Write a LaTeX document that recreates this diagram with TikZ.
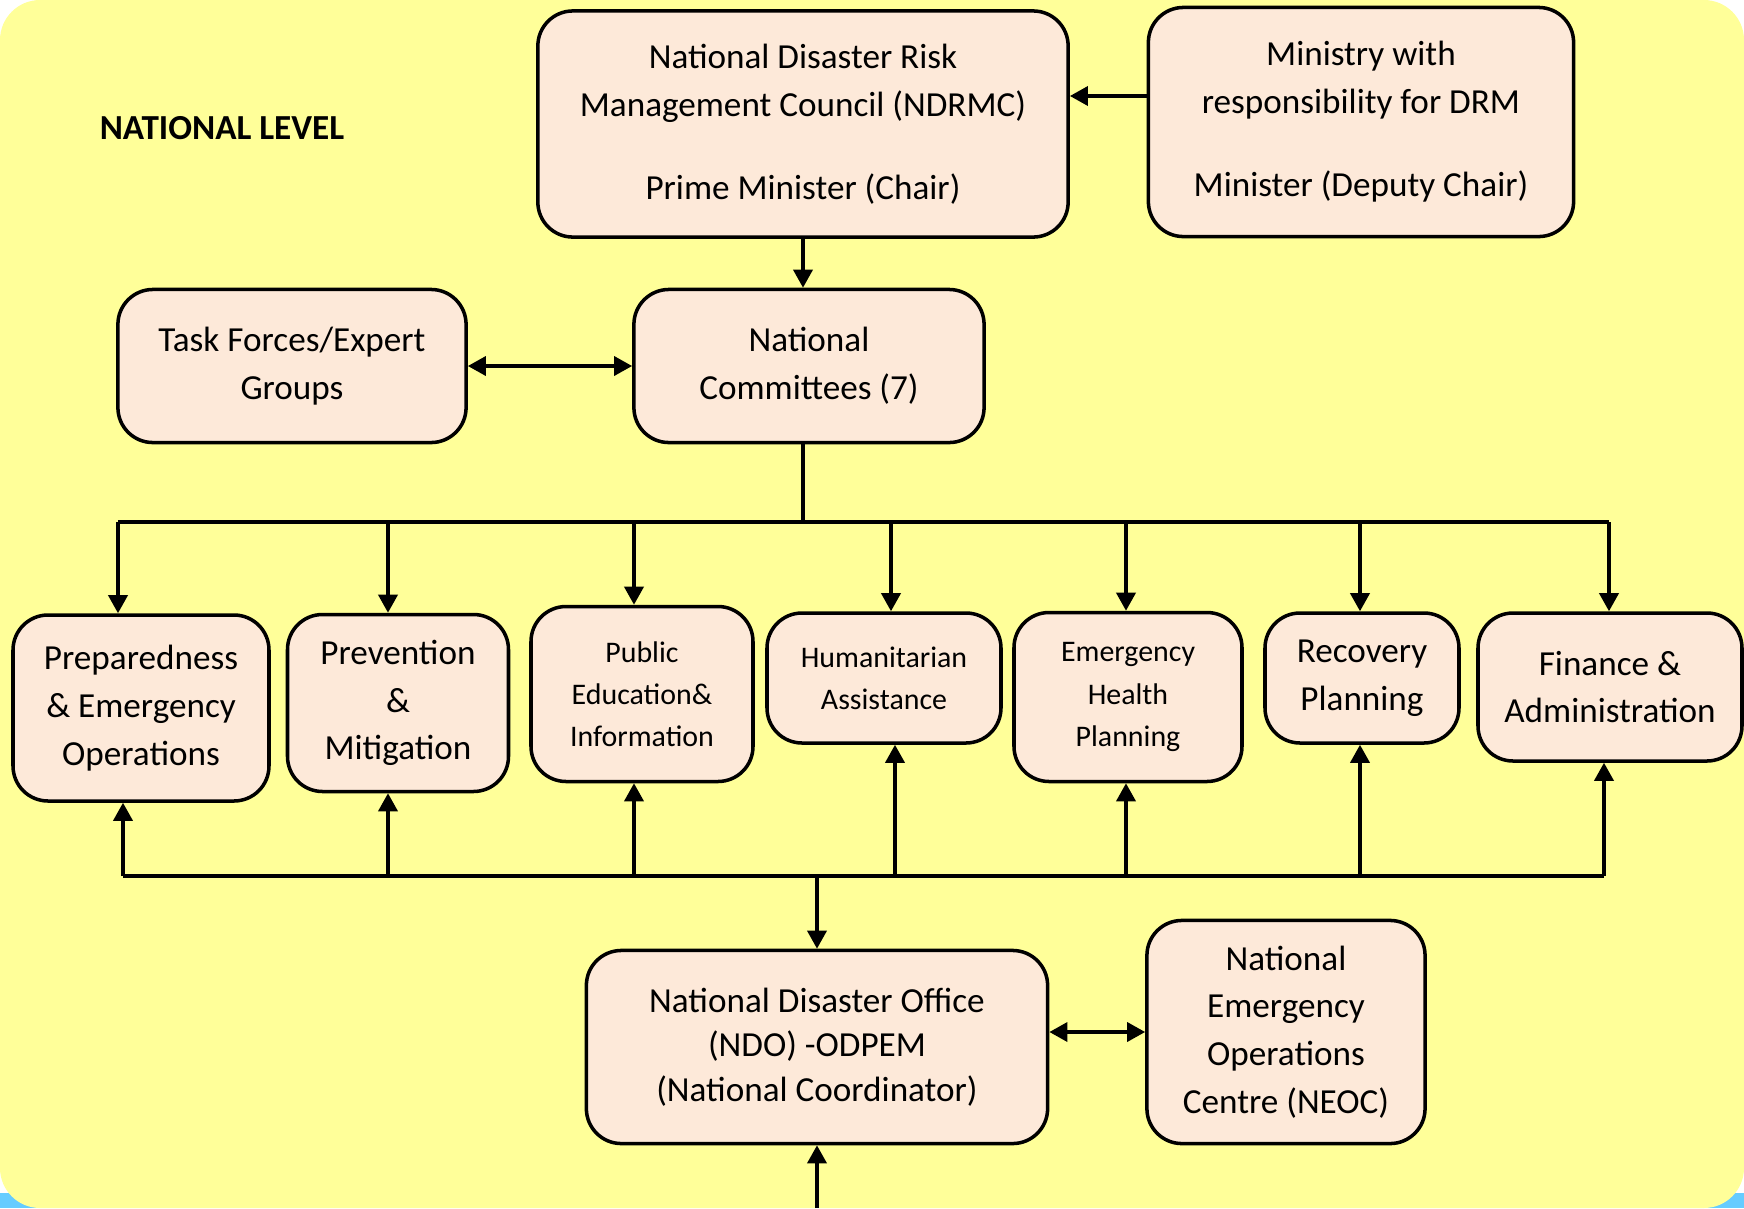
\documentclass[tikz,border=0pt]{standalone}
\usepackage{fontspec}
\setmainfont{Carlito}
\usetikzlibrary{arrows.meta}
\definecolor{panel}{HTML}{FFFF99}
\definecolor{boxfill}{HTML}{FDE9D9}
\definecolor{edgeblue}{HTML}{66CCFF}
\newcommand\bigtxt{\fontsize{10}{13.6}\selectfont}
\newcommand\smalltxt{\fontsize{8.5}{12}\selectfont}

\begin{document}
\begin{tikzpicture}[x=0.01cm, y=-0.01cm,
    unit/.style={draw, line width=1pt, fill=boxfill, rounded corners=0.35cm, align=center, inner sep=0pt},
    link/.style={line width=1pt},
    arr/.style={link, -{Triangle[length=0.18cm, width=0.19cm]}},
    dblarr/.style={link, {Triangle[length=0.18cm, width=0.19cm]}-{Triangle[length=0.18cm, width=0.19cm]}}]
    % Background
    \useasboundingbox (0,0) rectangle (1744,1208);
    \fill[edgeblue] (0,1193) rectangle (1744,1208);
    \fill[panel, rounded corners=0.4cm] (0,0) rectangle (1744,1208);
    \node[font=\bfseries\bigtxt] (title) at (222,128) {NATIONAL LEVEL};

    % Council and ministry
    \node[unit, minimum width=5.30cm, minimum height=2.26cm, font=\bigtxt] (ndrmc) at (803,124)
        {National Disaster Risk\\Management Council (NDRMC)\\[10pt]Prime Minister (Chair)};
    \node[unit, minimum width=4.25cm, minimum height=2.29cm, font=\bigtxt] (ministry) at (1361,122)
        {Ministry with\\responsibility for DRM\\[10pt]Minister (Deputy Chair)};
    \coordinate (mlink) at ([yshift=0.26cm]ministry.west);
    \draw[arr] (mlink) -- (mlink -| ndrmc.east);

    % Committees
    \node[unit, minimum width=3.48cm, minimum height=1.53cm, font=\bigtxt] (task) at (292,366) {Task Forces/Expert\\Groups};
    \node[unit, minimum width=3.50cm, minimum height=1.53cm, font=\bigtxt] (committees) at (809,366) {National\\Committees (7)};
    \draw[arr] (ndrmc.south) -- (ndrmc.south |- committees.north);
    \draw[dblarr] (task.east) -- (committees.west);

    % Bus lines
    \coordinate (trunk) at (803,522);
    \coordinate (busL) at (118,522);
    \coordinate (busR) at (1609,522);
    \coordinate (lowL) at (123,876);
    \coordinate (lowR) at (1604,876);
    \draw[link] (committees.south -| trunk) -- (trunk);
    \draw[link] (busL) -- (busR);
    \draw[link] (lowL) -- (lowR);

    % Sub-committees
    \foreach \name/\x/\y/\w/\h/\dx/\ux/\fs/\txt in {
        prep/141/708/256/186/118/123/\bigtxt/{Preparedness\\\& Emergency\\Operations},
        prev/398/703/221/177/388/388/\bigtxt/{Prevention\\\&\\Mitigation},
        pub/642/694/222/175/634/634/\smalltxt/{Public\\Education\&\\Information},
        hum/884/678/234/130/891/895/\smalltxt/{Humanitarian\\Assistance},
        health/1128/697/228/169/1126/1126/\smalltxt/{Emergency\\Health\\Planning},
        rec/1362/678/194/130/1360/1360/\bigtxt/{Recovery\\Planning},
        fin/1610/687/264/148/1609/1604/\bigtxt/{Finance \&\\Administration}} {
        \node[unit, minimum width=\w*0.01cm, minimum height=\h*0.01cm, font=\fs] (\name) at (\x,\y) {\txt};
        \coordinate (\name-in) at (\dx,522);
        \coordinate (\name-out) at (\ux,876);
        \draw[arr] (\name-in) -- (\name-in |- \name.north);
        \draw[arr] (\name-out) -- (\name-out |- \name.south);
    }

    % Disaster office
    \node[unit, minimum width=4.61cm, minimum height=1.93cm, font=\fontsize{10}{12.6}\selectfont] (ndo) at (817,1047)
        {National Disaster Office\\(NDO) -ODPEM\\(National Coordinator)};
    \node[unit, minimum width=2.78cm, minimum height=2.23cm, font=\bigtxt] (neoc) at (1286,1032)
        {National\\Emergency\\Operations\\Centre (NEOC)};
    \coordinate (feed) at (817,1208);
    \draw[arr] (ndo.north |- lowL) -- (ndo.north);
    \draw[dblarr] (neoc.west -| ndo.east) -- (neoc.west);
    \draw[arr] (feed) -- (ndo.south);
\end{tikzpicture}
\end{document}
